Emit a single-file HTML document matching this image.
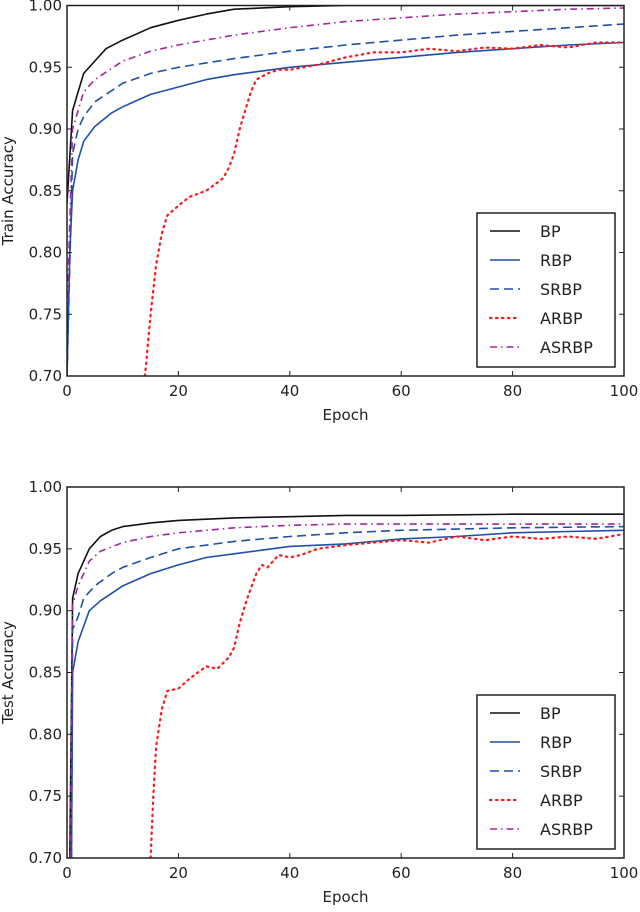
<!DOCTYPE html>
<html><head><meta charset="utf-8"><style>
body{margin:0;background:#fff}
svg text{font-family:"DejaVu Sans","Liberation Sans",sans-serif;fill:#222}
</style></head><body>
<svg id="c" width="640" height="907" xmlns="http://www.w3.org/2000/svg"></svg>
<script>
const xTicks=[0,20,40,60,80,100];
const yTicks=[0.70,0.75,0.80,0.85,0.90,0.95,1.00];
const seriesNames=["BP","RBP","SRBP","ARBP","ASRBP"];
const trainBPx=[0,1,2,3,5,7,10,15,20,25,30,40,50,60,70,80,90,100];
const trainBPy=[0.84,0.915,0.93,0.945,0.955,0.965,0.972,0.982,0.988,0.993,0.997,0.999,1.0,1.0,1.0,1.0,1.0,1.0];
const trainRBPx=[0,0.5,1,2,3,5,8,10,15,20,25,30,40,50,60,70,80,90,100];
const trainRBPy=[0.70,0.80,0.85,0.875,0.89,0.902,0.913,0.918,0.928,0.934,0.94,0.944,0.95,0.954,0.958,0.962,0.965,0.968,0.97];
const trainSRBPx=[0,1,2,3,5,10,15,20,30,40,50,60,70,80,90,100];
const trainSRBPy=[0.70,0.88,0.90,0.91,0.922,0.937,0.945,0.95,0.957,0.963,0.968,0.972,0.976,0.979,0.982,0.985];
const trainARBPx=[14,15,16,17,18,20,22,25,28,29,30,31,32,33,34,36,38,40,45,50,55,60,65,70,75,80,85,90,95,100];
const trainARBPy=[0.70,0.75,0.79,0.815,0.83,0.838,0.845,0.85,0.86,0.868,0.88,0.90,0.915,0.93,0.94,0.945,0.948,0.948,0.952,0.958,0.962,0.962,0.965,0.963,0.966,0.965,0.968,0.966,0.97,0.97];
const trainASRBPx=[0,1,2,3,5,10,15,20,30,40,50,60,70,80,90,100];
const trainASRBPy=[0.75,0.90,0.915,0.93,0.94,0.955,0.963,0.968,0.976,0.982,0.987,0.99,0.993,0.995,0.997,0.998];
const testBPx=[0.5,1,2,3,4,6,8,10,15,20,30,40,50,60,80,100];
const testBPy=[0.70,0.91,0.93,0.94,0.95,0.96,0.965,0.968,0.971,0.973,0.975,0.976,0.977,0.977,0.978,0.978];
const testRBPx=[0.8,1,2,4,6,10,15,20,25,30,40,50,60,70,80,90,100];
const testRBPy=[0.70,0.85,0.875,0.90,0.908,0.92,0.93,0.937,0.943,0.946,0.952,0.954,0.958,0.96,0.963,0.964,0.965];
const testSRBPx=[0.8,1,2,3,5,8,10,15,20,30,40,50,60,80,100];
const testSRBPy=[0.70,0.885,0.895,0.91,0.92,0.93,0.935,0.943,0.95,0.956,0.96,0.963,0.965,0.967,0.968];
const testARBPx=[15,15.5,16,17,18,20,22,25,27,29,30,31,32,33,34,35,36,38,40,42,45,50,55,60,65,70,75,80,85,90,95,100];
const testARBPy=[0.70,0.75,0.79,0.82,0.835,0.837,0.845,0.855,0.853,0.862,0.87,0.89,0.905,0.918,0.93,0.937,0.935,0.945,0.943,0.945,0.95,0.953,0.955,0.957,0.955,0.96,0.957,0.96,0.958,0.96,0.958,0.962];
const testASRBPx=[0.6,1,2,4,6,10,15,20,30,40,50,60,80,100];
const testASRBPy=[0.70,0.905,0.92,0.94,0.948,0.955,0.96,0.963,0.967,0.969,0.97,0.97,0.97,0.97];

const NS="http://www.w3.org/2000/svg";
const svg=document.getElementById('c');
function mk(t,a,p){const e=document.createElementNS(NS,t);for(const k in a)e.setAttribute(k,a[k]);(p||svg).appendChild(e);return e;}
const styles={BP:{c:"#111",d:""},RBP:{c:"#1f4faa",d:""},SRBP:{c:"#1f4faa",d:"9,5"},ARBP:{c:"#ff1a1a",d:"1.5,4.5"},ASRBP:{c:"#a0289a",d:"7,4,1.5,4"}};

function chart(top,bottom,label,data,name){
  const L=67,R=624;
  const g=mk('g',{});
  
  
  const sx=v=>L+(v-0)/100*(R-L);
  const sy=v=>bottom-(v-0.7)/0.3*(bottom-top);
  const clip='cl'+name;
  const cp=mk('clipPath',{id:clip},g);mk('rect',{x:L,y:top,width:R-L,height:bottom-top},cp);
  seriesNames.forEach((s,i)=>{
    const [xs,ys]=data[i];
    const pts=xs.map((x,j)=>sx(x).toFixed(1)+','+sy(ys[j]).toFixed(1)).join(' ');
    const pl=mk('polyline',{points:pts,fill:'none',stroke:styles[s].c,'stroke-width':s==='ARBP'?2.2:1.6,'stroke-dasharray':styles[s].d,'stroke-linecap':s==='ARBP'?'round':'butt','stroke-linejoin':'round','clip-path':'url(#'+clip+')'},g);
    
    
  });
  const fr=mk('rect',{x:L,y:top,width:R-L,height:bottom-top,fill:'none',stroke:'#222','stroke-width':1.5},g);
  
  
  xTicks.forEach(t=>{
    const x=sx(t);
    mk('line',{x1:x,y1:bottom,x2:x,y2:bottom-5,stroke:'#222'},g);
    mk('line',{x1:x,y1:top,x2:x,y2:top+5,stroke:'#222'},g);
    const tx=mk('text',{x:x,y:bottom+20,'text-anchor':'middle','font-size':15},g);tx.textContent=t;
    
    
  });
  yTicks.forEach(t=>{
    const y=sy(t);
    mk('line',{x1:L,y1:y,x2:L+5,y2:y,stroke:'#222'},g);
    mk('line',{x1:R,y1:y,x2:R-5,y2:y,stroke:'#222'},g);
    const ty=mk('text',{x:L-5,y:y+5,'text-anchor':'end','font-size':15},g);ty.textContent=t.toFixed(2);
    
    
  });
  const xl=mk('text',{x:(L+R)/2,y:bottom+44,'text-anchor':'middle','font-size':15},g);xl.textContent='Epoch';
  
  
  const yl=mk('text',{x:0,y:0,'text-anchor':'middle','font-size':15,transform:`translate(13,${(top+bottom)/2}) rotate(-90)`},g);yl.textContent=label;
  
  
  const lg=mk('g',{},g);
  
  
  const lt=bottom-163;
  mk('rect',{x:477,y:lt,width:138,height:154,fill:'#fff',stroke:'#222','stroke-width':1.5},lg);
  seriesNames.forEach((s,i)=>{
    const y=lt+18+i*29;
    const e=mk('g',{},lg);
    
    
    mk('line',{x1:490,y1:y,x2:520,y2:y,stroke:styles[s].c,'stroke-width':s==='ARBP'?2.2:1.6,'stroke-dasharray':styles[s].d,'stroke-linecap':s==='ARBP'?'round':'butt'},e);
    const t=mk('text',{x:540,y:y+6,'font-size':16},e);t.textContent=s;
  });
}
chart(5.5,376,'Train Accuracy',[[trainBPx,trainBPy],[trainRBPx,trainRBPy],[trainSRBPx,trainSRBPy],[trainARBPx,trainARBPy],[trainASRBPx,trainASRBPy]],'train-chart');
chart(487,858,'Test Accuracy',[[testBPx,testBPy],[testRBPx,testRBPy],[testSRBPx,testSRBPy],[testARBPx,testARBPy],[testASRBPx,testASRBPy]],'test-chart');
</script>
</body></html>
